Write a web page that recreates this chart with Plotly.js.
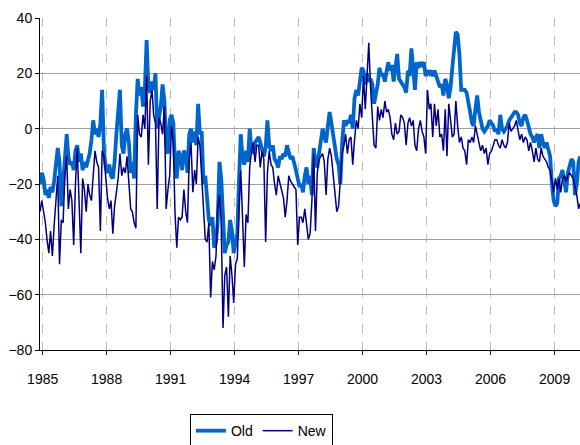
<!DOCTYPE html>
<html>
<head>
<meta charset="utf-8">
<script src="https://cdn.plot.ly/plotly-3.0.1.min.js"></script>
<style>html,body{margin:0;padding:0;background:#fff;}#chart{width:580px;height:445px;}</style>
</head>
<body>
<div id="chart"></div>
<script>
// Monthly series, first observation Nov 1984
const startYear = 1984, startMonth = 10; // 0-based month (November)
const seriesNames = ["Old", "New"];
const tickYears = ["1985","1988","1991","1994","1997","2000","2003","2006","2009"];

const oldValues = [
  -20,-16,-18,-24,-22,-25,-21,-23,-19,-14,-7,-12,
  -28,-20,-8,-2,-10,-13,-12,-15,-8,-6,-12,-9,
  -15,-12,-14,-11,-9,-4,3,-2,0,-3,2,14,
  -8,-14,-16,-13,-17,-18,-12,-2,5,14,-6,-9,
  -2,0,-5,-16,-12,-18,5,18,12,15,8,14,
  32,15,13,17,14,20,0,5,8,16,10,-6,
  -9,3,5,2,-13,-18,-8,-10,-15,-8,-9,-16,
  -2,0,-5,-1,-6,9,-2,-1,-20,-17,-28,-33,
  -35,-32,-43,-41,-34,-12,-18,-35,-45,-42,-41,-33,
  -37,-45,-42,-38,-19,-2,-11,-13,-8,-12,0,-8,
  -9,-5,-4,-3,-5,-8,-10,-7,3,-6,-8,-6,
  -11,-12,-14,-10,-11,-9,-10,-6,-8,-11,-10,-12,
  -15,-18,-21,-20,-23,-17,-14,-20,-17,-24,-7,-12,
  -14,-9,-4,0,-3,-5,1,6,2,-3,-8,-11,
  -13,-20,-5,3,1,3,2,5,0,11,14,12,
  17,22,21,16,20,17,18,16,9,13,16,22,
  19,20,17,21,24,21,23,17,21,27,18,17,
  16,15,13,21,19,29,22,14,24,22,24,23,
  24,19,21,20,21,19,21,19,16,15,16,12,
  18,16,11,15,22,28,35,34,27,14,14,14,
  13,10,6,2,1,7,12,6,3,0,-1,0,
  1,3,2,1,-1,0,-2,5,0,-1,0,1,
  3,4,5,6,6,5,2,1,4,5,3,0,
  -2,-3,-5,-3,-2,-7,-2,-5,-7,-5,-7,-10,
  -20,-26,-28,-27,-18,-17,-15,-19,-23,-16,-13,-11,
  -12,-24,-20,-12,-10
];

const newValues = [
  -30,-26,-30,-34,-40,-45,-37,-46,-35,-27,-17,-49,
  -33,-34,-17,-10,-29,-22,-26,-42,-20,-7,-25,-45,
  -18,-22,-30,-20,-24,-26,-17,-8,-12,-14,-37,-8,
  -10,-19,-25,-29,-26,-38,-28,-23,-18,-9,-17,-14,
  -16,-10,-21,-29,-30,-34,-36,5,-2,-3,5,0,
  19,-13,10,14,5,2,-29,4,2,-2,8,-29,
  -22,-17,1,-5,-30,-43,-32,-33,-32,-22,-30,-34,
  -11,-5,-23,-15,-20,-3,-6,-17,-29,-40,-41,-34,
  -61,-48,-51,-46,-29,-24,-34,-72,-53,-50,-68,-46,
  -53,-63,-49,-47,-29,-15,-32,-50,-31,-34,-14,-8,
  -5,-12,-6,-6,-14,-8,-11,-41,-16,-8,-13,-14,
  -20,-24,-17,-20,-22,-25,-32,-26,-17,-19,-20,-21,
  -22,-42,-32,-32,-34,-29,-34,-40,-38,-26,-9,-37,
  -16,-11,-10,-9,-12,-24,-11,-7,-10,-17,-26,-30,
  -28,-18,-9,-6,-2,-9,-4,-3,-13,-4,3,0,
  9,4,19,7,18,31,15,6,-6,-7,8,3,
  7,4,10,6,7,4,-2,-4,2,-2,-1,5,
  4,2,-6,2,4,1,3,-6,-8,0,3,-1,
  -3,-9,14,7,9,-3,9,1,7,-3,-2,-8,
  7,-10,9,3,-3,-2,10,1,-5,-3,-7,-8,
  -13,-4,-5,-3,-5,1,-2,-4,-8,-6,-9,-7,
  -13,-9,-8,-6,-4,-4,-6,-7,-4,-6,-7,-5,
  2,-1,0,1,3,-1,-4,-2,-5,-3,-4,-8,
  -5,-8,-12,-7,-11,-12,-7,-10,-11,-12,-14,-15,
  -19,-23,-18,-22,-18,-23,-18,-17,-19,-17,-16,-17,
  -18,-21,-24,-29,-27
];

function monthDate(i) {
  const d = new Date(Date.UTC(startYear, startMonth + i, 16));
  return d.toISOString().slice(0, 10);
}
const dates = oldValues.map((_, i) => monthDate(i));
const tickDates = tickYears.map(y => y + "-01-01");

const traces = [
  {x: dates, y: oldValues, name: seriesNames[0], type: "scatter", mode: "lines",
   line: {color: "#0066CC", width: 3.8}},
  {x: dates, y: newValues, name: seriesNames[1], type: "scatter", mode: "lines",
   line: {color: "#000080", width: 1.5}}
];

const fontFam = "Liberation Sans, Arial, sans-serif";

const layout = {
  width: 580, height: 445,
  margin: {l: 40, r: 0, t: 18, b: 95, autoexpand: false},
  paper_bgcolor: "#fff", plot_bgcolor: "#fff",
  font: {family: fontFam, size: 14, color: "#000"},
  showlegend: true,
  legend: {orientation: "h", x: 0.41, xanchor: "center", y: -0.193, yanchor: "top",
           bordercolor: "#000", borderwidth: 1, bgcolor: "#fff",
           font: {family: fontFam, size: 14}, traceorder: "normal"},
  xaxis: {
    type: "date",
    range: ["1984-11-16", "2010-03-12"],
    tickvals: tickDates, ticktext: tickYears,
    showgrid: true, gridcolor: "#BDBDBD", griddash: "dash", gridwidth: 1,
    showline: true, linecolor: "#000", linewidth: 1,
    ticks: "outside", ticklen: 4, tickcolor: "#000",
    ticklabelstandoff: 12,
    zeroline: false, fixedrange: true
  },
  yaxis: {
    range: [-80, 40], dtick: 20, tick0: 0,
    showgrid: true, gridcolor: "#A0A0A0", gridwidth: 1,
    showline: true, linecolor: "#000", linewidth: 1,
    ticks: "outside", ticklen: 4, tickcolor: "#000",
    zeroline: false, fixedrange: true
  }
};

Plotly.newPlot("chart", traces, layout, {staticPlot: true, displayModeBar: false});
</script>
</body>
</html>
